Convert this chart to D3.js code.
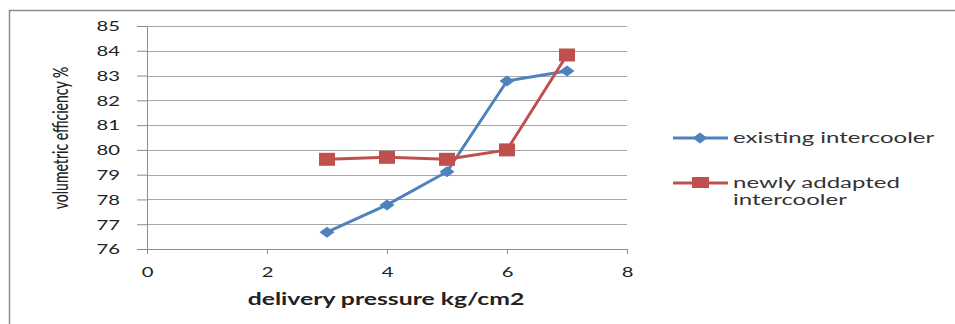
<!DOCTYPE html>
<html>
<head>
<meta charset="utf-8">
<script src="https://cdn.jsdelivr.net/npm/d3@7"></script>
<style>
  body { margin: 0; background: #fff; }
  text { font-family: Lato, "DejaVu Sans", sans-serif; fill: #222; }
</style>
</head>
<body>
<script>
var pressure = [3, 4, 5, 6, 7];
var existing = [76.68, 77.78, 79.12, 82.78, 83.18];
var adapted = [79.62, 79.7, 79.62, 80.0, 83.83];
var seriesNames = ["existing intercooler", "newly addapted intercooler"];
var xTicks = [0, 2, 4, 6, 8];
var yTicks = [76, 77, 78, 79, 80, 81, 82, 83, 84, 85];

var w = 955;
var h = 324;
var sx = 1.5; // text in the picture is stretched sideways

var svg = d3.select("body")
            .append("svg")
            .attr("width", w)
            .attr("height", h);

// outer chart border (runs off the right and bottom)
svg.append("rect")
   .attr("x", 9.5)
   .attr("y", 10.5)
   .attr("width", 1000)
   .attr("height", 400)
   .attr("fill", "none")
   .attr("stroke", "#8c8c8c")
   .attr("stroke-width", 1.5);

var x = d3.scaleLinear().domain([0, 8]).range([147, 627]);
var y = d3.scaleLinear().domain([76, 85]).range([249, 26]);

// gridlines
svg.selectAll(".grid")
   .data(yTicks.slice(1))
   .enter()
   .append("line")
   .attr("x1", x(0))
   .attr("x2", x(8))
   .attr("y1", function(d){ return Math.round(y(d)) + 0.5; })
   .attr("y2", function(d){ return Math.round(y(d)) + 0.5; })
   .attr("stroke", "#a6a6a6")
   .attr("stroke-width", 1);

// y axis
var yAxis = svg.append("g")
               .attr("transform", "translate(" + x(0) + ",0)")
               .call(d3.axisLeft(y).tickValues(yTicks).tickSize(10).tickSizeOuter(0));
yAxis.select(".domain").attr("stroke", "#8c8c8c");
yAxis.selectAll(".tick line").attr("stroke", "#8c8c8c");
yAxis.selectAll(".tick text")
     .attr("x", -27 / sx)
     .attr("dy", "0.36em")
     .attr("transform", "scale(" + sx + ",1)")
     .style("font-size", "13.5px")
     .style("fill", "#222");

// x axis
var xAxis = svg.append("g")
               .attr("transform", "translate(0," + y(76) + ")")
               .call(d3.axisBottom(x).tickValues(xTicks).tickSize(5).tickSizeOuter(0));
xAxis.select(".domain").attr("stroke", "#8c8c8c").attr("d", "M137,0.5H" + x(8));
xAxis.selectAll(".tick line").attr("stroke", "#8c8c8c");
xAxis.selectAll(".tick text")
     .attr("y", 18)
     .attr("transform", "scale(" + sx + ",1)")
     .style("font-size", "13.5px")
     .style("fill", "#222");

// series lines
var line = d3.line()
             .x(function(d){ return x(d[0]); })
             .y(function(d){ return y(d[1]); });

var blue = "#4f81bd";
var red = "#c0504d";

svg.append("path")
   .datum(d3.zip(pressure, existing))
   .attr("d", line)
   .attr("fill", "none")
   .attr("stroke", blue)
   .attr("stroke-width", 3);

svg.append("path")
   .datum(d3.zip(pressure, adapted))
   .attr("d", line)
   .attr("fill", "none")
   .attr("stroke", red)
   .attr("stroke-width", 3);

svg.selectAll(".sq")
   .data(d3.zip(pressure, adapted))
   .enter()
   .append("rect")
   .attr("x", function(d){ return x(d[0]) - 8; })
   .attr("y", function(d){ return y(d[1]) - 6.5; })
   .attr("width", 16)
   .attr("height", 13)
   .attr("fill", red);

svg.selectAll(".dia")
   .data(d3.zip(pressure, existing))
   .enter()
   .append("path")
   .attr("d", "M-7.5,0L0,-5.5L7.5,0L0,5.5Z")
   .attr("transform", function(d){ return "translate(" + x(d[0]) + "," + y(d[1]) + ")"; })
   .attr("fill", blue);

// axis titles
svg.append("text")
   .attr("transform", "translate(386,305) scale(" + sx + ",1)")
   .attr("text-anchor", "middle")
   .style("font-size", "16.5px")
   .style("font-weight", "bold")
   .text("delivery pressure kg/cm2");

svg.append("text")
   .attr("transform", "translate(68,138) rotate(-90) scale(1," + sx + ")")
   .attr("text-anchor", "middle")
   .style("font-size", "14px")
   .style("font-weight", 500)
   .text("volumetric efficiency %");

// legend
var legend = svg.append("g");
legend.append("line")
      .attr("x1", 673).attr("x2", 728).attr("y1", 138).attr("y2", 138)
      .attr("stroke", blue).attr("stroke-width", 3);
legend.append("path")
      .attr("d", "M-7.5,0L0,-5.5L7.5,0L0,5.5Z")
      .attr("transform", "translate(700,138)")
      .attr("fill", blue);
legend.append("text")
      .attr("transform", "translate(733,143) scale(" + sx + ",1)")
      .style("font-size", "16px")
      .style("fill", "#333")
      .text(seriesNames[0]);

legend.append("line")
      .attr("x1", 673).attr("x2", 728).attr("y1", 183).attr("y2", 183)
      .attr("stroke", red).attr("stroke-width", 3);
legend.append("rect")
      .attr("x", 692).attr("y", 177).attr("width", 17).attr("height", 11)
      .attr("fill", red);
legend.append("text")
      .attr("transform", "translate(733,188) scale(" + sx + ",1)")
      .style("font-size", "16px")
      .style("fill", "#333")
      .text("newly addapted");
legend.append("text")
      .attr("transform", "translate(733,205) scale(" + sx + ",1)")
      .style("font-size", "16px")
      .style("fill", "#333")
      .text("intercooler");
</script>
</body>
</html>
